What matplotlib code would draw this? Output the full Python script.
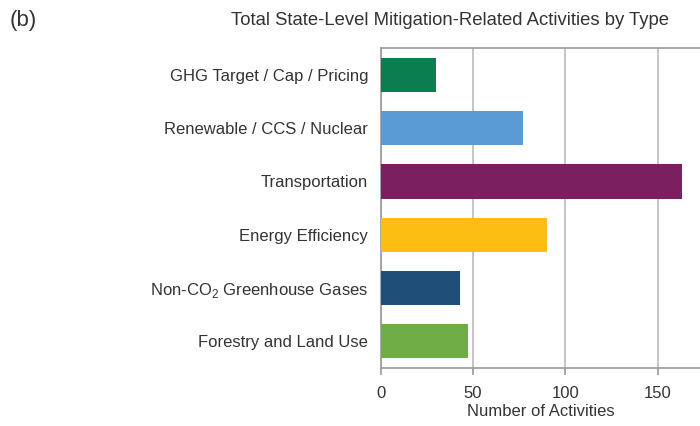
import matplotlib
matplotlib.use("Agg")
import matplotlib.pyplot as plt

# data
categories = ["GHG Target / Cap / Pricing",
              "Renewable / CCS / Nuclear",
              "Transportation",
              "Energy Efficiency",
              "Non-CO$_2$ Greenhouse Gases",
              "Forestry and Land Use"]
counts = [30, 77, 163, 90, 43, 47]
colors = ["#0b7d4e", "#5b9bd5", "#7b1f5e", "#fdbd12", "#1f4e79", "#70ad47"]
xticks = [0, 50, 100, 150]

plt.rcParams['font.family'] = ['Liberation Sans', 'DejaVu Sans']
plt.rcParams['mathtext.fontset'] = 'custom'
plt.rcParams['mathtext.rm'] = 'Liberation Sans'

fig = plt.figure(figsize=(7, 4.26), dpi=100)
ax = fig.add_axes([0.544, 0.136, 0.456, 0.751])

ypos = list(range(len(categories)))
ax.barh(ypos, counts, height=0.64, color=colors, zorder=3)
ax.set_ylim(len(categories) - 0.5, -0.5)
ax.set_xlim(0, 173)
ax.set_yticks(ypos)
ax.set_yticklabels(categories, fontsize=12, color="#333333")
ax.set_xticks(xticks)
ax.set_xticklabels([str(t) for t in xticks], fontsize=12, color="#333333")
ax.tick_params(axis="y", length=0, pad=9)
ax.tick_params(axis="x", length=5, color="#999999", width=1.2, pad=8)
ax.grid(axis="x", color="#bbbbbb", linewidth=1.2, zorder=0)
for side in ["left", "bottom", "top"]:
   ax.spines[side].set_color("#999999")
   ax.spines[side].set_linewidth(1.2)
ax.spines["right"].set_visible(False)
ax.set_xlabel("Number of Activities", fontsize=12, color="#333333", labelpad=2)

fig.text(0.643, 0.952, "Total State-Level Mitigation-Related Activities by Type",
         ha="center", va="center", fontsize=13.3, color="#333333")
fig.text(0.014, 0.952, "(b)", ha="left", va="center", fontsize=16, color="#333333")

fig.savefig("out.png", dpi=100)
